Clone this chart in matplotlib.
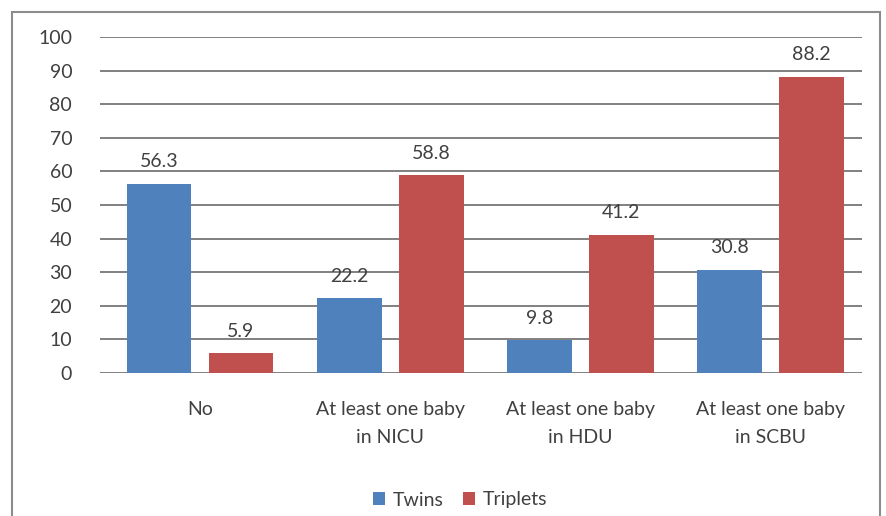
import numpy as np
import matplotlib.pyplot as plt
from matplotlib.patches import Rectangle

categories = ['No', 'At least one baby\nin NICU', 'At least one baby\nin HDU', 'At least one baby\nin SCBU']
twins = [56.3, 22.2, 9.8, 30.8]
triplets = [5.9, 58.8, 41.2, 88.2]

plt.rcParams['font.family'] = ['Lato', 'DejaVu Sans']

fig = plt.figure(figsize=(8.86, 5.16), dpi=100)
# outer chart frame
fig.patches.append(Rectangle((12/886, -0.05), 868/886, 1.05 - 12/516, transform=fig.transFigure,
                             fill=False, edgecolor='#8c8c8c', linewidth=1.5))

ax = fig.add_axes([100/886, 1 - 373/516, 762/886, 336/516])
x = np.arange(len(categories))
w = 0.34
off = 0.215
b1 = ax.bar(x - off, twins, w, color='#4F81BD', label='Twins', zorder=3)
b2 = ax.bar(x + off, triplets, w, color='#C0504D', label='Triplets', zorder=3)

for bars in (b1, b2):
    for r in bars:
        ax.text(r.get_x() + r.get_width()/2, r.get_height() + 4, '%.1f' % r.get_height(),
                ha='center', va='bottom', fontsize=14, color='#404040')

ax.set_ylim(0, 100)
ax.set_xlim(-0.526, 3.48)
ax.set_yticks(range(0, 101, 10))
ax.yaxis.grid(True, color='#808080', linewidth=1.4, zorder=0)
ax.set_axisbelow(True)
for s in ax.spines.values():
    s.set_visible(False)
ax.tick_params(axis='both', length=0, labelsize=14, colors='#404040')
ax.tick_params(axis='y', pad=20)
ax.tick_params(axis='x', pad=20)
ax.set_xticks(x)
ax.set_xticklabels(categories, linespacing=1.8)

fig.legend(handles=[b1, b2], loc='center', bbox_to_anchor=(460/886, 1 - 500/516), ncol=2,
           frameon=False, fontsize=14, handlelength=0.6, handleheight=0.6, handletextpad=0.4,
           columnspacing=1.0, labelcolor='#404040')

fig.savefig('out.png', dpi=100)
